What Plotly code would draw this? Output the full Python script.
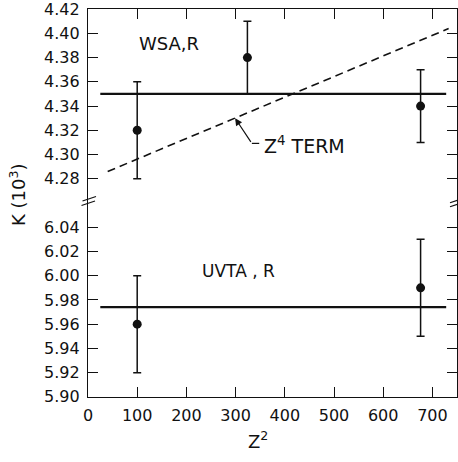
import plotly.graph_objects as go

# ---- data ----
z2 = [100, 324, 676]
wsa_k = [4.32, 4.38, 4.34]
wsa_err = [0.04, 0.03, 0.03]
wsa_mean = 4.35
uvta_z2 = [100, 676]
uvta_k = [5.96, 5.99]
uvta_err = [0.04, 0.04]
uvta_mean = 5.974
mean_x = [25, 728]
z4_x = [40, 733]
z4_y = [4.286, 4.404]
x_ticks = [0, 100, 200, 300, 400, 500, 600, 700]
top_ticks = [4.28, 4.30, 4.32, 4.34, 4.36, 4.38, 4.40, 4.42]
bot_ticks = [5.90, 5.92, 5.94, 5.96, 5.98, 6.00, 6.02, 6.04]

FONT = "DejaVu Sans"
BLK = "#111111"

fig = go.Figure()

# top panel (WSA,R)
fig.add_trace(go.Scatter(x=mean_x, y=[wsa_mean, wsa_mean], mode="lines",
                         line=dict(color=BLK, width=2.2), xaxis="x2", yaxis="y2"))
fig.add_trace(go.Scatter(x=z4_x, y=z4_y, mode="lines",
                         line=dict(color=BLK, width=1.6, dash="8px,5px"), xaxis="x2", yaxis="y2"))
fig.add_trace(go.Scatter(x=z2, y=wsa_k, mode="markers",
                         marker=dict(color=BLK, size=9),
                         error_y=dict(type="data", array=wsa_err, color=BLK, thickness=1.5, width=4),
                         xaxis="x2", yaxis="y2"))

# bottom panel (UVTA,R)
fig.add_trace(go.Scatter(x=mean_x, y=[uvta_mean, uvta_mean], mode="lines",
                         line=dict(color=BLK, width=2.2), xaxis="x", yaxis="y"))
fig.add_trace(go.Scatter(x=uvta_z2, y=uvta_k, mode="markers",
                         marker=dict(color=BLK, size=9),
                         error_y=dict(type="data", array=uvta_err, color=BLK, thickness=1.5, width=4),
                         xaxis="x", yaxis="y"))

axis_common = dict(showgrid=False, zeroline=False, showline=True, linecolor=BLK, linewidth=1.3,
                   ticks="inside", ticklen=10, tickwidth=1.3, tickcolor=BLK,
                   ticklabeloverflow="allow",
                   tickfont=dict(family=FONT, size=16, color=BLK))

fig.update_layout(
    width=458, height=462,
    margin=dict(l=88, r=1, t=9, b=65),
    paper_bgcolor="white", plot_bgcolor="white",
    showlegend=False,
    xaxis=dict(range=[0, 750], tickvals=x_ticks, anchor="y", domain=[0, 1],
               ticklabelstandoff=4, **axis_common),
    xaxis2=dict(range=[0, 750], tickvals=x_ticks, anchor="y2", side="top", overlaying="x",
                showticklabels=False, **axis_common),
    yaxis=dict(range=[5.8999, 6.06], tickvals=bot_ticks, ticktext=[f"{v:.2f}" for v in bot_ticks],
               domain=[0, 0.5], anchor="x", mirror="ticks", ticklabelstandoff=4, **axis_common),
    yaxis2=dict(range=[4.26, 4.4201], tickvals=top_ticks, ticktext=[f"{v:.2f}" for v in top_ticks],
                domain=[0.5, 1], anchor="x2", mirror="ticks", ticklabelstandoff=4, **axis_common),
)

# text labels
fig.add_annotation(x=164, y=4.392, xref="x2", yref="y2", text="WSA,R", showarrow=False,
                   font=dict(family=FONT, size=18, color=BLK))
fig.add_annotation(x=305, y=6.004, xref="x", yref="y", text="UVTA , R", showarrow=False,
                   font=dict(family=FONT, size=17, color=BLK))
fig.add_annotation(x=354, y=4.3078, xref="x2", yref="y2", text="Z<sup>4</sup> TERM", showarrow=False,
                   xanchor="left", font=dict(family=FONT, size=19, color=BLK))
# arrow to the dashed line
fig.add_annotation(x=299, y=4.330, xref="x2", yref="y2", ax=333, ay=4.3092, axref="x2", ayref="y2",
                   text="", showarrow=True, arrowhead=2, arrowsize=1.2, arrowwidth=1.2, arrowcolor=BLK)
fig.add_shape(type="line", x0=333, y0=4.3092, x1=348, y1=4.3092, xref="x2", yref="y2",
              line=dict(color=BLK, width=1.2))

# axis titles
fig.add_annotation(x=-0.19, y=0.523, xref="paper", yref="paper", text="K (10<sup>3</sup>)",
                   textangle=-90, showarrow=False, xanchor="center", yanchor="middle",
                   font=dict(family=FONT, size=18, color=BLK))
fig.add_annotation(x=0.461, y=-0.111, xref="paper", yref="paper", text="Z<sup>2</sup>",
                   showarrow=False, xanchor="center", yanchor="middle",
                   font=dict(family=FONT, size=18, color=BLK))

# axis break marks
def px(xp):
    return (xp - 88) / 369.0

def py(yp):
    return (397 - yp) / 388.0

for (x0, y0, x1, y1) in [(82.5, 201, 96, 196.5), (81.5, 205.5, 95, 201),
                         (450, 202.7, 458, 200), (450, 206.7, 458, 204)]:
    fig.add_shape(type="line", xref="paper", yref="paper", x0=px(x0), y0=py(y0), x1=px(x1), y1=py(y1),
                  line=dict(color=BLK, width=1.2))

fig.write_html("out.html")
